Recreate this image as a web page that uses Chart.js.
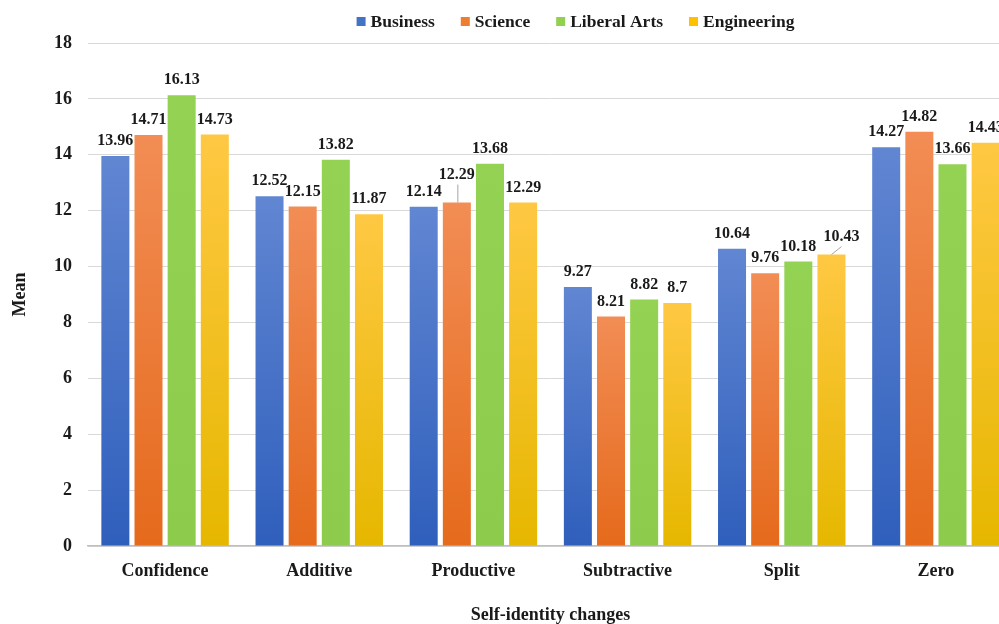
<!DOCTYPE html>
<html>
<head>
<meta charset="utf-8">
<title>Self-identity changes by major</title>
<script src="https://cdn.jsdelivr.net/npm/chart.js@4.4.1/dist/chart.umd.min.js"></script>
<style>
  html, body { margin: 0; padding: 0; background: #ffffff; overflow: hidden; }
  #wrap { width: 1013px; height: 624px; }
</style>
</head>
<body>
<div id="wrap"><canvas id="chart" width="1013" height="624"></canvas></div>
<script>
// Categories of self-identity change and mean scores per major
const categories = ['Confidence', 'Additive', 'Productive', 'Subtractive', 'Split', 'Zero'];
const business    = [13.96, 12.52, 12.14, 9.27, 10.64, 14.27];
const science     = [14.71, 12.15, 12.29, 8.21, 9.76, 14.82];
const liberalArts = [16.13, 13.82, 13.68, 8.82, 10.18, 13.66];
const engineering = [14.73, 11.87, 12.29, 8.7, 10.43, 14.43];
const seriesNames = ['Business', 'Science', 'Liberal Arts', 'Engineering'];
const yTicks = [0, 2, 4, 6, 8, 10, 12, 14, 16, 18];

const SERIF = '"Liberation Serif", "Times New Roman", serif';

// Vertical gradient per bar: lighter at the top, deeper at the base
function barGradient(topColor, baseColor) {
  return (context) => {
    const chart = context.chart;
    if (!chart.chartArea || context.type !== 'data') return baseColor;
    const ys = chart.scales.y;
    const yTop = ys.getPixelForValue(context.raw);
    const yBase = ys.getPixelForValue(0);
    if (!isFinite(yTop) || !isFinite(yBase) || yTop === yBase) return baseColor;
    const g = chart.ctx.createLinearGradient(0, yTop, 0, yBase);
    g.addColorStop(0, topColor);
    g.addColorStop(1, baseColor);
    return g;
  };
}

const palette = [
  { top: '#6186d2', base: '#2f5fbc', key: '#4472c4' },
  { top: '#f28d55', base: '#e56a1c', key: '#ed7d31' },
  { top: '#94d253', base: '#8ccb4b', key: '#92d050' },
  { top: '#ffc843', base: '#e6b700', key: '#ffc000' }
];

const seriesValues = [business, science, liberalArts, engineering];

// Value labels above each bar, with a few nudged labels joined by leader lines
const valueLabels = {
  id: 'valueLabels',
  afterDatasetsDraw(chart, args, opts) {
    const ctx = chart.ctx;
    ctx.save();
    ctx.font = 'bold 16px ' + SERIF;
    ctx.fillStyle = '#1a1a1a';
    ctx.textAlign = 'center';
    ctx.textBaseline = 'middle';
    chart.data.datasets.forEach((ds, di) => {
      const meta = chart.getDatasetMeta(di);
      meta.data.forEach((bar, i) => {
        const n = opts.nudges[di + ':' + i] || { dx: 0, dy: 0 };
        const x = bar.x + n.dx;
        const y = bar.y - opts.gap + n.dy;
        if (n.leader) {
          ctx.save();
          ctx.strokeStyle = '#a6a6a6';
          ctx.lineWidth = 1;
          ctx.beginPath();
          ctx.moveTo(bar.x + (n.dx ? 0 : 1), bar.y);
          ctx.lineTo(x + (n.dx ? 0 : 1), y + 10);
          ctx.stroke();
          ctx.restore();
        }
        ctx.fillText(String(ds.data[i]), x, y);
      });
    });
    ctx.restore();
  }
};

// Row of square keys with series names across the top
const keyRow = {
  id: 'keyRow',
  afterDraw(chart, args, opts) {
    const ctx = chart.ctx;
    ctx.save();
    ctx.font = 'bold 17.5px ' + SERIF;
    ctx.textBaseline = 'middle';
    ctx.textAlign = 'left';
    const items = chart.data.datasets.map((ds, i) => ({
      label: ds.label, color: palette[i].key, w: ctx.measureText(ds.label).width
    }));
    const box = 9, gap = 5, spacing = 26;
    const total = items.reduce((s, it) => s + box + gap + it.w, 0) + spacing * (items.length - 1);
    let x = opts.centerX - total / 2;
    const cy = opts.centerY;
    items.forEach((it) => {
      ctx.fillStyle = it.color;
      ctx.fillRect(x, cy - box / 2, box, box);
      x += box + gap;
      ctx.fillStyle = '#1a1a1a';
      ctx.fillText(it.label, x, cy + 1);
      x += it.w + spacing;
    });
    ctx.restore();
  }
};

new Chart(document.getElementById('chart'), {
  type: 'bar',
  data: {
    labels: categories,
    datasets: seriesNames.map((name, i) => ({
      label: name,
      data: seriesValues[i],
      backgroundColor: barGradient(palette[i].top, palette[i].base),
      borderWidth: 0,
      categoryPercentage: 0.86,
      barPercentage: 0.845
    }))
  },
  options: {
    responsive: false,
    devicePixelRatio: 1,
    animation: false,
    layout: { padding: { top: 43, right: 0, bottom: 0, left: 0 } },
    plugins: {
      legend: { display: false },
      tooltip: { enabled: false },
      valueLabels: {
        gap: 15,
        nudges: {
          '1:2': { dx: 0, dy: -13, leader: true },
          '3:4': { dx: 10, dy: -3, leader: true }
        }
      },
      keyRow: { centerX: 575.5, centerY: 21.5 }
    },
    scales: {
      x: {
        grid: { display: false, drawTicks: false },
        border: { display: true, color: '#bfbfbf', width: 1.5 },
        ticks: {
          padding: 15,
          color: '#1a1a1a',
          font: { family: SERIF, size: 18, weight: 'bold' }
        },
        title: {
          display: true,
          text: 'Self-identity changes',
          color: '#1a1a1a',
          padding: 0,
          font: { family: SERIF, size: 18, weight: 'bold', lineHeight: 1 }
        },
        afterFit(scale) { scale.height = 78; }
      },
      y: {
        min: 0,
        max: 18,
        afterBuildTicks(scale) { scale.ticks = yTicks.map((v) => ({ value: v })); },
        grid: { color: '#d9d9d9', lineWidth: 1, drawTicks: false },
        border: { display: false },
        ticks: {
          padding: 16,
          color: '#1a1a1a',
          font: { family: SERIF, size: 18, weight: 'bold' }
        },
        title: {
          display: true,
          text: 'Mean',
          color: '#1a1a1a',
          padding: { top: 11, bottom: 0 },
          font: { family: SERIF, size: 18, weight: 'bold', lineHeight: 1 }
        },
        afterFit(scale) { scale.width = 88; }
      }
    }
  },
  plugins: [valueLabels, keyRow]
});
</script>
</body>
</html>
